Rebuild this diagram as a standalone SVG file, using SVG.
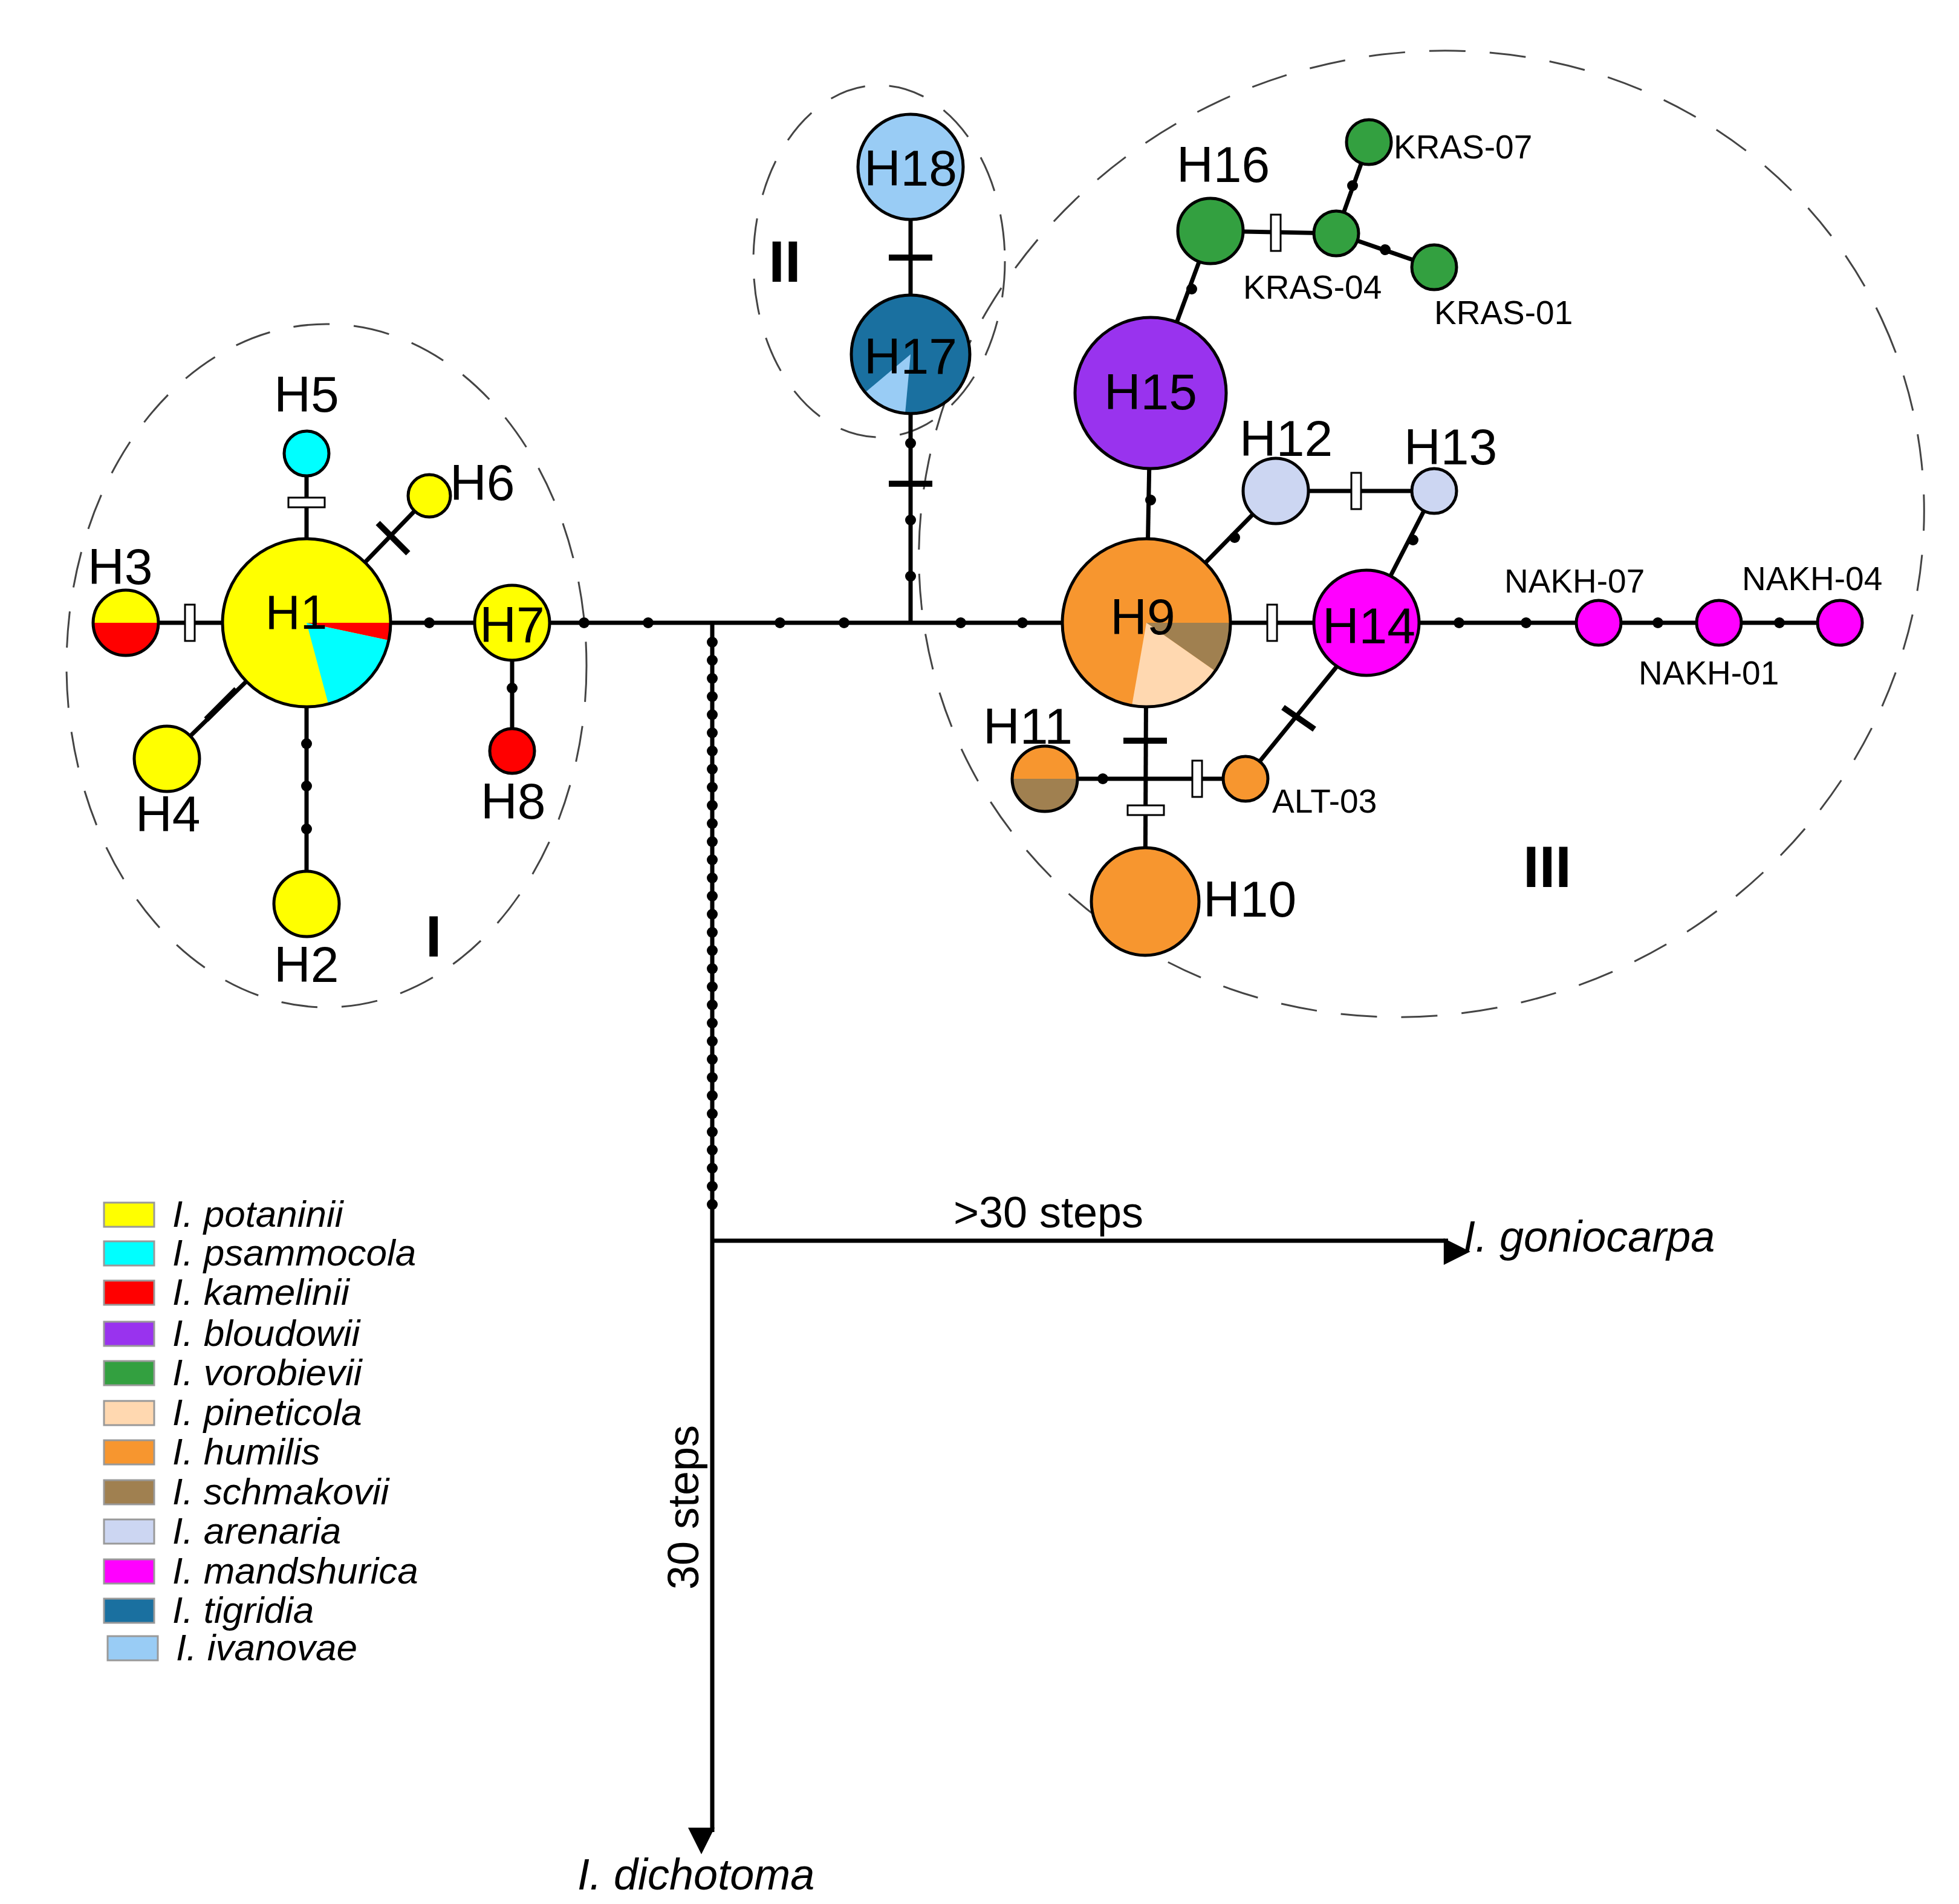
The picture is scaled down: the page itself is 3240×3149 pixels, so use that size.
<svg xmlns="http://www.w3.org/2000/svg" width="3240" height="3149" viewBox="0 0 3240 3149">
<style>
.n{stroke:#000;stroke-width:5}
.l{stroke:#000;stroke-width:7;fill:none}
.t{font-family:"Liberation Sans",Arial,sans-serif;fill:#000}
.big{font-size:84px}
.sm{font-size:55px}
.it{font-family:"Liberation Sans",Arial,sans-serif;font-style:italic;font-size:62px}
.rom{font-family:"Liberation Sans",Arial,sans-serif;font-weight:bold;font-size:96px}
.el{fill:none;stroke:#444;stroke-width:3;stroke-dasharray:60 40}
.wb{fill:#fff;stroke:#000;stroke-width:3}
.bb{stroke:#000;stroke-width:10}
</style>
<defs>
<circle id="d" r="9" fill="#000"/>
<rect id="wv" x="-8" y="-30" width="16" height="60" class="wb"/>
<rect id="wh" x="-30" y="-8" width="60" height="16" class="wb"/>
<marker id="ar" viewBox="0 0 10 10" refX="9" refY="5" markerWidth="8" markerHeight="8" orient="auto" markerUnits="userSpaceOnUse" style="overflow:visible"><path d="M0,0 L10,5 L0,10z" transform="scale(5.5)" fill="#000"/></marker>
</defs>
<rect width="3240" height="3149" fill="#fff"/>
<g id="ellipses">
<ellipse class="el" cx="540" cy="1101" rx="430" ry="565"/>
<ellipse class="el" cx="1454" cy="432" rx="208" ry="291"/>
<ellipse class="el" cx="2351" cy="883" rx="840" ry="790" transform="rotate(-25 2351 883)"/>
</g>
<g id="connectors">
<line class="l" x1="208" y1="1030" x2="3043" y2="1030"/>
<line class="l" x1="507" y1="750" x2="507" y2="1495"/>
<line class="l" x1="507" y1="1030" x2="710" y2="820"/>
<line class="l" x1="507" y1="1030" x2="276" y2="1255"/>
<line class="l" x1="847" y1="1030" x2="847" y2="1242"/>
<line class="l" x1="1506" y1="276" x2="1506" y2="1030"/>
<line class="l" x1="1178" y1="1030" x2="1178" y2="3030" marker-end="url(#ar)"/>
<line class="l" x1="1178" y1="2052" x2="2395" y2="2052" marker-end="url(#ar)"/>
<line class="l" x1="1903" y1="650" x2="2002" y2="382"/>
<line class="l" x1="2002" y1="382" x2="2210" y2="386"/>
<line class="l" x1="2210" y1="386" x2="2264" y2="235"/>
<line class="l" x1="2210" y1="386" x2="2372" y2="442"/>
<line class="l" x1="1903" y1="650" x2="1896" y2="1030"/>
<line class="l" x1="1896" y1="1030" x2="2110" y2="812"/>
<line class="l" x1="2110" y1="812" x2="2372" y2="812"/>
<line class="l" x1="2372" y1="812" x2="2260" y2="1030"/>
<line class="l" x1="1896" y1="1030" x2="1894" y2="1491"/>
<line class="l" x1="1728" y1="1288" x2="2060" y2="1288"/>
<line class="l" x1="2060" y1="1288" x2="2212" y2="1101"/>
<use href="#wv" x="314" y="1030"/>
<use href="#wh" x="507" y="831"/>
<line class="bb" x1="625" y1="915" x2="675" y2="865" transform="rotate(90 650 890)"/>
<line class="bb" x1="341" y1="1140" x2="391" y2="1190" transform="rotate(90 366 1165)"/>
<use href="#d" x="507" y="1230"/><use href="#d" x="507" y="1300"/><use href="#d" x="507" y="1371"/>
<use href="#d" x="710" y="1030"/><use href="#d" x="847" y="1138"/>
<use href="#d" x="966" y="1030"/><use href="#d" x="1072" y="1030"/><use href="#d" x="1290" y="1030"/><use href="#d" x="1396" y="1030"/><use href="#d" x="1589" y="1030"/><use href="#d" x="1691" y="1030"/>
<use href="#d" x="1506" y="733"/><use href="#d" x="1506" y="860"/><use href="#d" x="1506" y="953"/>
<line class="bb" x1="1470" y1="800" x2="1542" y2="800"/>
<line class="bb" x1="1470" y1="426" x2="1542" y2="426"/>
<use href="#d" x="1178" y="1062"/><use href="#d" x="1178" y="1092"/><use href="#d" x="1178" y="1122"/><use href="#d" x="1178" y="1152"/><use href="#d" x="1178" y="1182"/><use href="#d" x="1178" y="1212"/><use href="#d" x="1178" y="1242"/><use href="#d" x="1178" y="1272"/><use href="#d" x="1178" y="1302"/><use href="#d" x="1178" y="1332"/><use href="#d" x="1178" y="1362"/><use href="#d" x="1178" y="1392"/><use href="#d" x="1178" y="1422"/><use href="#d" x="1178" y="1452"/><use href="#d" x="1178" y="1482"/><use href="#d" x="1178" y="1512"/><use href="#d" x="1178" y="1542"/><use href="#d" x="1178" y="1572"/><use href="#d" x="1178" y="1602"/><use href="#d" x="1178" y="1632"/><use href="#d" x="1178" y="1662"/><use href="#d" x="1178" y="1692"/><use href="#d" x="1178" y="1722"/><use href="#d" x="1178" y="1752"/><use href="#d" x="1178" y="1782"/><use href="#d" x="1178" y="1812"/><use href="#d" x="1178" y="1842"/><use href="#d" x="1178" y="1872"/><use href="#d" x="1178" y="1902"/><use href="#d" x="1178" y="1932"/><use href="#d" x="1178" y="1962"/><use href="#d" x="1178" y="1992"/>
<use href="#d" x="1971" y="478"/>
<use href="#wv" x="2110" y="385"/>
<use href="#d" x="2237" y="307"/><use href="#d" x="2291" y="413"/>
<use href="#d" x="1903" y="827"/>
<use href="#d" x="2042" y="889"/>
<use href="#wv" x="2243" y="812"/>
<use href="#d" x="2337" y="893"/>
<use href="#wv" x="2104" y="1030"/>
<use href="#d" x="2413" y="1030"/><use href="#d" x="2524" y="1030"/><use href="#d" x="2742" y="1030"/><use href="#d" x="2943" y="1030"/>
<line class="bb" x1="1858" y1="1225" x2="1930" y2="1225"/>
<use href="#d" x="1824" y="1288"/>
<use href="#wv" x="1980" y="1288"/>
<use href="#wh" x="1895" y="1340"/>
<line class="bb" x1="2122" y1="1170" x2="2174" y2="1206" transform="rotate(0)"/>
</g>
<g id="H1"><circle cx="507" cy="1030" r="139" fill="#ffff00"/><path d="M507,1030 L646,1030 A139,139 0 0,1 643,1059Z" fill="#ff0000"/><path d="M507,1030 L643,1059 A139,139 0 0,1 543,1164Z" fill="#00ffff"/><circle cx="507" cy="1030" r="139" fill="none" class="n"/><text class="t" x="490" y="1040" font-size="80" text-anchor="middle">H1</text></g>
<g id="H3"><path d="M154,1030 A54,54 0 0,1 262,1030Z" fill="#ffff00"/><path d="M154,1030 A54,54 0 0,0 262,1030Z" fill="#ff0000"/><circle cx="208" cy="1030" r="54" fill="none" class="n"/><text class="t big" x="145" y="966">H3</text></g>
<g id="H5"><circle cx="507" cy="750" r="37" fill="#00ffff" class="n"/><text class="t big" x="507" y="681" text-anchor="middle">H5</text></g>
<g id="H6"><circle cx="710" cy="820" r="35" fill="#ffff00" class="n"/><text class="t big" x="744" y="827">H6</text></g>
<g id="H4"><circle cx="276" cy="1255" r="54" fill="#ffff00" class="n"/><text class="t big" x="224" y="1375">H4</text></g>
<g id="H2"><circle cx="507" cy="1495" r="54" fill="#ffff00" class="n"/><text class="t big" x="453" y="1624">H2</text></g>
<g id="H7"><circle cx="847" cy="1030" r="62" fill="#ffff00" class="n"/><text class="t big" x="847" y="1062" text-anchor="middle">H7</text></g>
<g id="H8"><circle cx="847" cy="1242" r="37" fill="#ff0000" class="n"/><text class="t big" x="795" y="1354">H8</text></g>
<g id="H18"><circle cx="1506" cy="276" r="87" fill="#99ccf5" class="n"/><text class="t big" x="1506" y="307" text-anchor="middle">H18</text></g>
<g id="H17"><circle cx="1506" cy="586" r="98" fill="#1a70a0"/><path d="M1506,586 L1497,684 A98,98 0 0,1 1431,649Z" fill="#99ccf5"/><circle cx="1506" cy="586" r="98" fill="none" class="n"/><text class="t big" x="1506" y="618" text-anchor="middle">H17</text></g>
<g id="H15"><circle cx="1903" cy="650" r="125" fill="#9933ee" class="n"/><text class="t big" x="1903" y="677" text-anchor="middle">H15</text></g>
<g id="H16"><circle cx="2002" cy="382" r="54" fill="#33a040" class="n"/><text class="t big" x="1946" y="301">H16</text></g>
<g id="KRAS-04"><circle cx="2210" cy="386" r="37" fill="#33a040" class="n"/><text class="t sm" x="2056" y="494">KRAS-04</text></g>
<g id="KRAS-07"><circle cx="2264" cy="235" r="37" fill="#33a040" class="n"/><text class="t sm" x="2305" y="262">KRAS-07</text></g>
<g id="KRAS-01"><circle cx="2372" cy="442" r="37" fill="#33a040" class="n"/><text class="t sm" x="2372" y="536">KRAS-01</text></g>
<g id="H12"><circle cx="2110" cy="812" r="54" fill="#ccd6f2" class="n"/><text class="t big" x="2050" y="754">H12</text></g>
<g id="H13"><circle cx="2372" cy="812" r="37" fill="#ccd6f2" class="n"/><text class="t big" x="2322" y="768">H13</text></g>
<g id="H9"><circle cx="1896" cy="1030" r="139" fill="#f7962f"/><path d="M1896,1030 L2035,1030 A139,139 0 0,1 2010,1110Z" fill="#a08050"/><path d="M1896,1030 L2010,1110 A139,139 0 0,1 1872,1167Z" fill="#ffd8b0"/><circle cx="1896" cy="1030" r="139" fill="none" class="n"/><text class="t big" x="1890" y="1049" text-anchor="middle">H9</text></g>
<g id="H14"><circle cx="2260" cy="1030" r="87" fill="#ff00ff" class="n"/><text class="t big" x="2264" y="1064" text-anchor="middle">H14</text></g>
<g id="NAKH-07"><circle cx="2644" cy="1030" r="37" fill="#ff00ff" class="n"/><text class="t sm" x="2488" y="980">NAKH-07</text></g>
<g id="NAKH-01"><circle cx="2843" cy="1030" r="37" fill="#ff00ff" class="n"/><text class="t sm" x="2710" y="1132">NAKH-01</text></g>
<g id="NAKH-04"><circle cx="3043" cy="1030" r="37" fill="#ff00ff" class="n"/><text class="t sm" x="2881" y="976">NAKH-04</text></g>
<g id="H11"><path d="M1674,1288 A54,54 0 0,1 1782,1288Z" fill="#f7962f"/><path d="M1674,1288 A54,54 0 0,0 1782,1288Z" fill="#a08050"/><circle cx="1728" cy="1288" r="54" fill="none" class="n"/><text class="t big" x="1626" y="1230">H11</text></g>
<g id="ALT-03"><circle cx="2060" cy="1288" r="37" fill="#f7962f" class="n"/><text class="t sm" x="2104" y="1344">ALT-03</text></g>
<g id="H10"><circle cx="1894" cy="1491" r="89" fill="#f7962f" class="n"/><text class="t big" x="1990" y="1516">H10</text></g>
<g id="labels">
<text class="rom" x="1298" y="466" text-anchor="middle">II</text>
<text class="rom" x="717" y="1582" text-anchor="middle">I</text>
<text class="rom" x="2559" y="1467" text-anchor="middle">III</text>
<text class="t" font-size="72" x="1734" y="2030" text-anchor="middle">&gt;30 steps</text>
<text class="it" font-size="72" x="2420" y="2070" style="font-size:72px">I. goniocarpa</text>
<text class="t" font-size="72" transform="translate(1155,2493) rotate(-90)" text-anchor="middle">30 steps</text>
<text class="it" style="font-size:72px" x="955" y="3125">I. dichotoma</text>
</g>
<g id="legend">
<rect x="172" y="1989" width="83" height="40" fill="#ffff00" stroke="#999" stroke-width="3"/><text class="it" x="285" y="2029">I. potaninii</text>
<rect x="172" y="2053" width="83" height="40" fill="#00ffff" stroke="#999" stroke-width="3"/><text class="it" x="285" y="2093">I. psammocola</text>
<rect x="172" y="2118" width="83" height="40" fill="#ff0000" stroke="#999" stroke-width="3"/><text class="it" x="285" y="2158">I. kamelinii</text>
<rect x="172" y="2186" width="83" height="40" fill="#9933ee" stroke="#999" stroke-width="3"/><text class="it" x="285" y="2226">I. bloudowii</text>
<rect x="172" y="2251" width="83" height="40" fill="#33a040" stroke="#999" stroke-width="3"/><text class="it" x="285" y="2291">I. vorobievii</text>
<rect x="172" y="2317" width="83" height="40" fill="#ffd8b0" stroke="#999" stroke-width="3"/><text class="it" x="285" y="2357">I. pineticola</text>
<rect x="172" y="2382" width="83" height="40" fill="#f7962f" stroke="#999" stroke-width="3"/><text class="it" x="285" y="2422">I. humilis</text>
<rect x="172" y="2448" width="83" height="40" fill="#a08050" stroke="#999" stroke-width="3"/><text class="it" x="285" y="2488">I. schmakovii</text>
<rect x="172" y="2513" width="83" height="40" fill="#ccd6f2" stroke="#999" stroke-width="3"/><text class="it" x="285" y="2553">I. arenaria</text>
<rect x="172" y="2579" width="83" height="40" fill="#ff00ff" stroke="#999" stroke-width="3"/><text class="it" x="285" y="2619">I. mandshurica</text>
<rect x="172" y="2644" width="83" height="40" fill="#1a70a0" stroke="#999" stroke-width="3"/><text class="it" x="285" y="2684">I. tigridia</text>
<rect x="178" y="2706" width="83" height="40" fill="#99ccf5" stroke="#999" stroke-width="3"/><text class="it" x="291" y="2746">I. ivanovae</text>
</g>
</svg>
